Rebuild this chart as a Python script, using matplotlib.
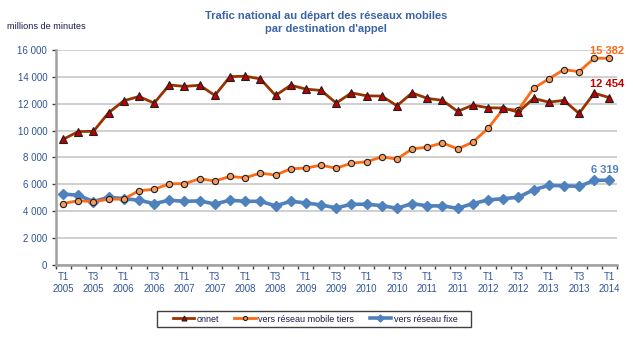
import matplotlib
matplotlib.use("Agg")
import matplotlib.pyplot as plt
from matplotlib.ticker import FuncFormatter, FixedLocator
from matplotlib.patches import Rectangle

plt.rcParams['font.family'] = ['Liberation Sans', 'DejaVu Sans']

# Quarterly periods, T1 2005 .. T1 2014
years = list(range(2005, 2015))
quarters = [f"T{q} {y}" for y in years for q in (1, 2, 3, 4)][:37]

# Traffic in millions of minutes
onnet = [9350, 9930, 9950, 11330, 12220, 12540, 12050, 13400, 13290, 13380,
         12620, 14020, 14050, 13850, 12620, 13380, 13090, 12990, 12050, 12810,
         12590, 12570, 11850, 12810, 12400, 12250, 11430, 11900, 11700, 11680,
         11380, 12400, 12120, 12250, 11280, 12790, 12454]
mobile_tiers = [4570, 4790, 4710, 4890, 4910, 5530, 5630, 6050, 6050, 6420,
                6250, 6590, 6490, 6840, 6690, 7160, 7210, 7430, 7200, 7580,
                7680, 8050, 7880, 8640, 8770, 9090, 8640, 9140, 10170, 11600,
                11550, 13140, 13850, 14540, 14390, 15390, 15382]
fixe = [5280, 5190, 4720, 5040, 4940, 4820, 4570, 4820, 4740, 4770,
        4540, 4820, 4740, 4740, 4400, 4740, 4620, 4470, 4250, 4520,
        4520, 4420, 4220, 4570, 4400, 4400, 4220, 4570, 4840, 4940,
        5040, 5600, 5920, 5900, 5850, 6290, 6319]

tick_labels = [q.replace(" ", "\n") for q in quarters]

C_ONNET = "#993300"
C_ONNET_MK = "#C00000"
C_MOB = "#FF6A13"
C_MOB_MK = "#F79A5A"
C_FIXE = "#4F81BD"
TXT = "#2F5597"

W, H = 633, 337
fig = plt.figure(figsize=(W / 100, H / 100), dpi=100)
ax = fig.add_axes([55.5 / W, 1 - 265 / H, (617 - 55.5) / W, 215 / H])

x = list(range(len(quarters)))
ax.plot(x, fixe, color=C_FIXE, lw=2.6, marker="D", ms=5.5,
        mfc=C_FIXE, mec=C_FIXE, label="vers réseau fixe", zorder=3)
ax.plot(x, mobile_tiers, color=C_MOB, lw=2.0, marker="o", ms=4.5,
        mfc=C_MOB_MK, mec="#202020", mew=0.8, label="vers réseau mobile tiers", zorder=4)
ax.plot(x, onnet, color=C_ONNET, lw=2.0, marker="^", ms=5.5,
        mfc=C_ONNET_MK, mec="#202020", mew=0.8, label="onnet", zorder=5)

ax.set_xlim(-0.5, len(quarters) - 0.5)
ax.set_ylim(0, 16000)
ax.yaxis.set_major_locator(FixedLocator(range(0, 16001, 2000)))
ax.yaxis.set_major_formatter(FuncFormatter(lambda v, p: f"{int(v):,}".replace(",", " ")))
ax.grid(axis="y", color="#CFCFCF", lw=1.4)
ax.set_axisbelow(True)

ax.set_xticks(x[::2])
ax.set_xticklabels(tick_labels[::2])
ax.set_xticks([i - 0.5 for i in range(len(quarters) + 1)], minor=True)
ax.tick_params(axis="x", which="major", length=0, pad=5, labelsize=7, labelcolor=TXT)
ax.tick_params(axis="x", which="minor", length=3, width=1, color="#404040", direction="out")
ax.tick_params(axis="y", length=3, width=1, color="#404040", direction="out",
               labelsize=7, labelcolor=TXT, pad=3)

for s in ("top", "right"):
    ax.spines[s].set_visible(False)
for s in ("left", "bottom"):
    ax.spines[s].set_color("#A0A0A0")
    ax.spines[s].set_linewidth(1.8)

# End-of-series value labels
fmt = lambda v: f"{v:,}".replace(",", " ")
ax.annotate(fmt(mobile_tiers[-1]), (x[-1], mobile_tiers[-1]), xytext=(-2, 1.5),
            textcoords="offset points", ha="center", va="bottom",
            color=C_MOB, fontsize=8, fontweight="bold", annotation_clip=False)
ax.annotate(fmt(onnet[-1]), (x[-1], onnet[-1]), xytext=(-2, 6.5),
            textcoords="offset points", ha="center", va="bottom",
            color=C_ONNET_MK, fontsize=8, fontweight="bold", annotation_clip=False)
ax.annotate(fmt(fixe[-1]), (x[-1], fixe[-1]), xytext=(-3, 4),
            textcoords="offset points", ha="center", va="bottom",
            color=C_FIXE, fontsize=8, fontweight="bold", annotation_clip=False)

fig.text(326 / W, 1 - 22.5 / H, "Trafic national au départ des réseaux mobiles\npar destination d'appel",
         ha="center", va="center", fontsize=8, fontweight="bold", color="#3B64A8",
         linespacing=1.35)
fig.text(7 / W, 1 - 26.5 / H, "millions de minutes", ha="left", va="center",
         fontsize=6.6, color="#1A1A4A")

# Legend with its own frame
fig.patches.append(Rectangle((157 / W, 1 - 327 / H), (471 - 157) / W, 16 / H,
                             transform=fig.transFigure, fill=False,
                             edgecolor="#404040", lw=1.0))
handles, labels = ax.get_legend_handles_labels()
order = [2, 1, 0]
leg = fig.legend([handles[i] for i in order], [labels[i] for i in order],
                 loc="center", bbox_to_anchor=(315 / W, 1 - 319 / H), ncol=3, frameon=False,
                 fontsize=6.5, handlelength=2.4, columnspacing=1.7, handletextpad=0.25,
                 borderpad=0.2, markerscale=0.65)
for t in leg.get_texts():
    t.set_color("#1A1A4A")

fig.savefig("out.png", dpi=100)
